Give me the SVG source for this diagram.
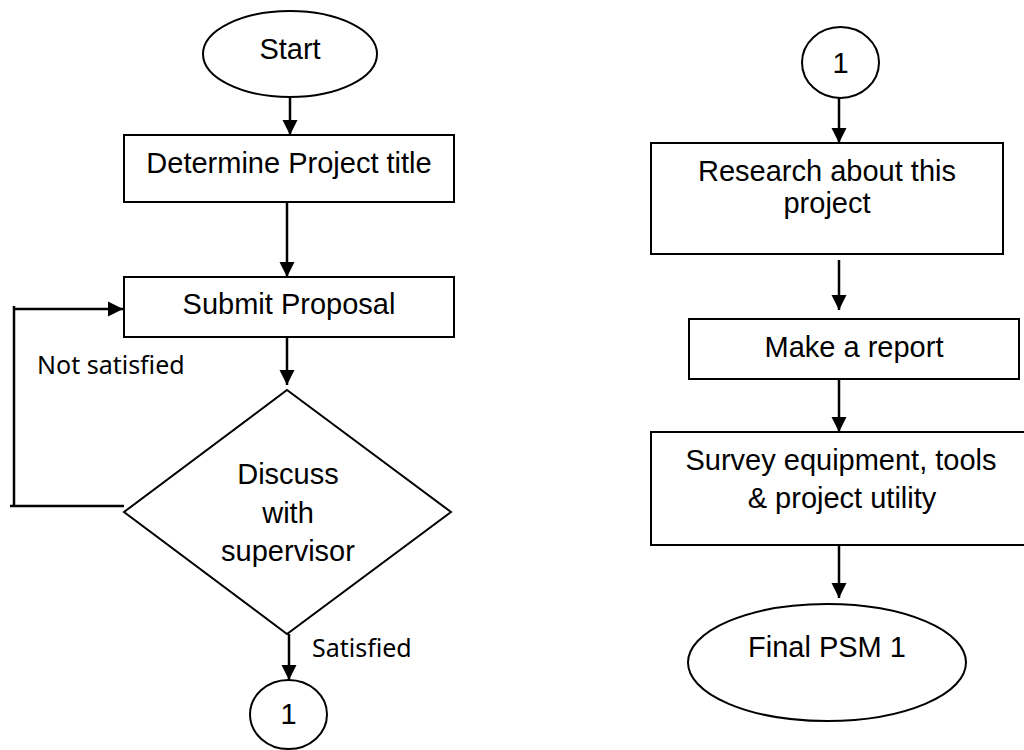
<svg xmlns="http://www.w3.org/2000/svg" width="1024" height="750" viewBox="0 0 1024 750">
<style>
.s{fill:#fff;stroke:#000;stroke-width:2}
.t{font-family:"Liberation Sans",Arial,sans-serif;font-size:29px;fill:#000;text-anchor:middle}
.l{font-family:"Noto Sans","Open Sans",sans-serif;font-size:25px;fill:#000}
.c{fill:none;stroke:#000;stroke-width:2.5}
</style>
<defs>
<marker id="ah" viewBox="0 0 10 10" refX="10" refY="5" markerWidth="15" markerHeight="16" markerUnits="userSpaceOnUse" orient="auto">
<path d="M0,0 L10,5 L0,10 Z" fill="#000"/>
</marker>
</defs>
<rect width="1024" height="750" fill="#fff"/>
<g id="connectors">
<line class="c" x1="290" y1="97" x2="290" y2="135" marker-end="url(#ah)"/>
<line class="c" x1="287" y1="202" x2="287" y2="277" marker-end="url(#ah)"/>
<line class="c" x1="287" y1="337" x2="287" y2="385" marker-end="url(#ah)"/>
<polyline class="c" points="10,506 124,506"/>
<line class="c" x1="14" y1="506" x2="14" y2="306"/>
<line class="c" x1="14" y1="309" x2="123" y2="309" marker-end="url(#ah)"/>
<line class="c" x1="289" y1="634" x2="289" y2="680" marker-end="url(#ah)"/>
<text class="l" x="37" y="374">Not satisfied</text>
<text class="l" x="312" y="657">Satisfied</text>
<line class="c" x1="839" y1="98" x2="839" y2="143" marker-end="url(#ah)"/>
<line class="c" x1="839" y1="260" x2="839" y2="310" marker-end="url(#ah)"/>
<line class="c" x1="839" y1="379" x2="839" y2="432" marker-end="url(#ah)"/>
<line class="c" x1="839" y1="545" x2="839" y2="598" marker-end="url(#ah)"/>
</g>
<g id="start">
<ellipse class="s" cx="290" cy="54" rx="87" ry="43"/>
<text class="t" x="290" y="59">Start</text>
</g>
<g id="determine">
<rect class="s" x="124" y="135" width="330" height="67"/>
<text class="t" x="289" y="173">Determine Project title</text>
</g>
<g id="submit">
<rect class="s" x="124" y="277" width="330" height="60"/>
<text class="t" x="289" y="314">Submit Proposal</text>
</g>
<g id="discuss">
<polygon class="s" points="287,390 451,512 287,634 124,512"/>
<text class="t" x="288" y="484">Discuss</text>
<text class="t" x="288" y="523">with</text>
<text class="t" x="288" y="561">supervisor</text>
</g>
<g id="conn1a">
<ellipse class="s" cx="288.5" cy="714.5" rx="38.5" ry="34.5"/>
<text class="t" x="288.5" y="724">1</text>
</g>
<g id="conn1b">
<ellipse class="s" cx="840.5" cy="62.5" rx="38.5" ry="35.5"/>
<text class="t" x="840.5" y="73">1</text>
</g>
<g id="research">
<rect class="s" x="651" y="143" width="352" height="111"/>
<text class="t" x="827" y="181">Research about this</text>
<text class="t" x="827" y="213">project</text>
</g>
<g id="report">
<rect class="s" x="689" y="319" width="330" height="60"/>
<text class="t" x="854" y="357">Make a report</text>
</g>
<g id="survey">
<rect class="s" x="651" y="432" width="380" height="113"/>
<text class="t" x="841" y="470">Survey equipment, tools</text>
<text class="t" x="842" y="508">&amp; project utility</text>
</g>
<g id="final">
<ellipse class="s" cx="827" cy="662.5" rx="139" ry="58.5"/>
<text class="t" x="827" y="657">Final PSM 1</text>
</g>
</svg>
